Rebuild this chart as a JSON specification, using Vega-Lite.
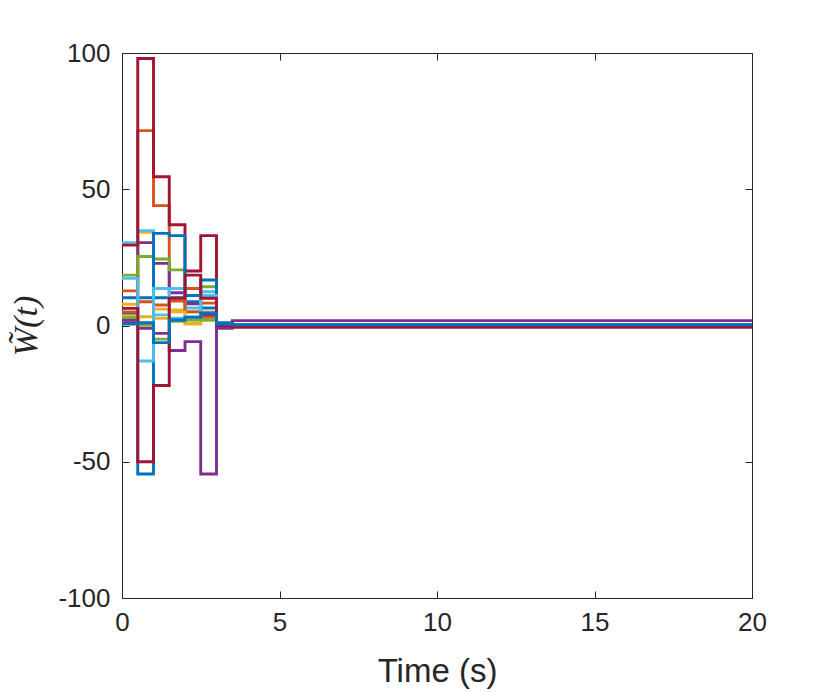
{
  "$schema": "https://vega.github.io/schema/vega-lite/v6.json",
  "autosize": {"type": "none"},
  "width": 630,
  "height": 545,
  "padding": {"left": 122, "top": 53, "right": 78, "bottom": 94},
  "background": "white",
  "config": {
    "view": {"stroke": null},
    "axis": {
      "grid": false,
      "domainColor": "#262626",
      "domainWidth": 1,
      "tickColor": "#262626",
      "tickWidth": 1,
      "tickSize": -7,
      "labelFlush": false,
      "labelColor": "#262626",
      "labelFont": "Liberation Sans",
      "labelFontSize": 26,
      "titleFont": "Liberation Sans",
      "titleColor": "#262626",
      "titleFontSize": 33,
      "titleFontWeight": "normal"
    }
  },
  "datasets": {
    "w": [
      {"s":"s01","t":0,"v":10.2},{"s":"s01","t":0.5,"v":10.2},{"s":"s01","t":1,"v":10.2},{"s":"s01","t":1.5,"v":10.2},{"s":"s01","t":2,"v":8.7},{"s":"s01","t":2.5,"v":6.4},{"s":"s01","t":3,"v":1.0},{"s":"s01","t":3.5,"v":0.2},{"s":"s01","t":20,"v":0.2},
      {"s":"s02","t":0,"v":12.7},{"s":"s02","t":0.5,"v":71.5},{"s":"s02","t":1,"v":44},{"s":"s02","t":1.5,"v":13.6},{"s":"s02","t":2,"v":13.6},{"s":"s02","t":2.5,"v":8.2},{"s":"s02","t":3,"v":0.2},{"s":"s02","t":3.5,"v":0.2},{"s":"s02","t":20,"v":0.2},
      {"s":"s03","t":0,"v":7.8},{"s":"s03","t":0.5,"v":34.2},{"s":"s03","t":1,"v":6.0},{"s":"s03","t":1.5,"v":5.7},{"s":"s03","t":2,"v":0.8},{"s":"s03","t":2.5,"v":5.0},{"s":"s03","t":3,"v":0.2},{"s":"s03","t":3.5,"v":0.2},{"s":"s03","t":20,"v":0.2},
      {"s":"s04","t":0,"v":1.0},{"s":"s04","t":0.5,"v":30.4},{"s":"s04","t":1,"v":22.8},{"s":"s04","t":1.5,"v":12},{"s":"s04","t":2,"v":8},{"s":"s04","t":2.5,"v":4},{"s":"s04","t":3,"v":0.3},{"s":"s04","t":3.5,"v":0.2},{"s":"s04","t":20,"v":0.2},
      {"s":"s05","t":0,"v":18.5},{"s":"s05","t":0.5,"v":25.3},{"s":"s05","t":1,"v":24.4},{"s":"s05","t":1.5,"v":20.4},{"s":"s05","t":2,"v":5},{"s":"s05","t":2.5,"v":14.2},{"s":"s05","t":3,"v":0.2},{"s":"s05","t":3.5,"v":0.2},{"s":"s05","t":20,"v":0.2},
      {"s":"s06","t":0,"v":30.4},{"s":"s06","t":0.5,"v":34.8},{"s":"s06","t":1,"v":3.9},{"s":"s06","t":1.5,"v":13.6},{"s":"s06","t":2,"v":6.4},{"s":"s06","t":2.5,"v":12.4},{"s":"s06","t":3,"v":0.3},{"s":"s06","t":3.5,"v":0.2},{"s":"s06","t":20,"v":0.2},
      {"s":"s07","t":0,"v":29.5},{"s":"s07","t":0.5,"v":98},{"s":"s07","t":1,"v":54.6},{"s":"s07","t":1.5,"v":37},{"s":"s07","t":2,"v":20},{"s":"s07","t":2.5,"v":33},{"s":"s07","t":3,"v":0},{"s":"s07","t":3.5,"v":-0.6},{"s":"s07","t":20,"v":-0.6},
      {"s":"s08","t":0,"v":4.5},{"s":"s08","t":0.5,"v":-54.5},{"s":"s08","t":1,"v":33.8},{"s":"s08","t":1.5,"v":33},{"s":"s08","t":2,"v":11},{"s":"s08","t":2.5,"v":16.7},{"s":"s08","t":3,"v":0.5},{"s":"s08","t":3.5,"v":0.3},{"s":"s08","t":20,"v":0.3},
      {"s":"s09","t":0,"v":5.0},{"s":"s09","t":0.5,"v":8.7},{"s":"s09","t":1,"v":7.5},{"s":"s09","t":1.5,"v":9},{"s":"s09","t":2,"v":5},{"s":"s09","t":2.5,"v":3},{"s":"s09","t":3,"v":0.2},{"s":"s09","t":3.5,"v":0.2},{"s":"s09","t":20,"v":0.2},
      {"s":"s10","t":0,"v":3.5},{"s":"s10","t":0.5,"v":3.2},{"s":"s10","t":1,"v":2.6},{"s":"s10","t":1.5,"v":5},{"s":"s10","t":2,"v":0.5},{"s":"s10","t":2.5,"v":2},{"s":"s10","t":3,"v":0.2},{"s":"s10","t":3.5,"v":0.2},{"s":"s10","t":20,"v":0.2},
      {"s":"s11","t":0,"v":2.0},{"s":"s11","t":0.5,"v":-1},{"s":"s11","t":1,"v":-2.9},{"s":"s11","t":1.5,"v":-9.2},{"s":"s11","t":2,"v":-5.9},{"s":"s11","t":2.5,"v":-54.5},{"s":"s11","t":3,"v":-1},{"s":"s11","t":3.5,"v":1.8},{"s":"s11","t":20,"v":1.8},
      {"s":"s12","t":0,"v":2.9},{"s":"s12","t":0.5,"v":0.2},{"s":"s12","t":1,"v":-5},{"s":"s12","t":1.5,"v":1.5},{"s":"s12","t":2,"v":2},{"s":"s12","t":2.5,"v":2},{"s":"s12","t":3,"v":0.2},{"s":"s12","t":3.5,"v":0.2},{"s":"s12","t":20,"v":0.2},
      {"s":"s13","t":0,"v":17.3},{"s":"s13","t":0.5,"v":-13},{"s":"s13","t":1,"v":13.6},{"s":"s13","t":1.5,"v":2.7},{"s":"s13","t":2,"v":3.2},{"s":"s13","t":2.5,"v":11},{"s":"s13","t":3,"v":0.2},{"s":"s13","t":3.5,"v":0.2},{"s":"s13","t":20,"v":0.2},
      {"s":"s14","t":0,"v":6.3},{"s":"s14","t":0.5,"v":-50},{"s":"s14","t":1,"v":-22},{"s":"s14","t":1.5,"v":10},{"s":"s14","t":2,"v":18.5},{"s":"s14","t":2.5,"v":10},{"s":"s14","t":3,"v":0},{"s":"s14","t":3.5,"v":-0.6},{"s":"s14","t":20,"v":-0.6},
      {"s":"s15","t":0,"v":0.5},{"s":"s15","t":0.5,"v":1},{"s":"s15","t":1,"v":-6.3},{"s":"s15","t":1.5,"v":2},{"s":"s15","t":2,"v":3},{"s":"s15","t":2.5,"v":4.6},{"s":"s15","t":3,"v":0.5},{"s":"s15","t":3.5,"v":0.3},{"s":"s15","t":20,"v":0.3}
    ]
  },
  "data": {"name": "w"},
  "layer": [
    {
      "mark": {"type": "line", "interpolate": "step-after", "strokeWidth": 2.9, "clip": true},
      "encoding": {
        "x": {"field": "t", "type": "quantitative", "scale": {"domain": [0, 20], "nice": false},
              "axis": {"values": [0, 5, 10, 15, 20], "title": "Time (s)", "labelPadding": 18, "titlePadding": 20}},
        "y": {"field": "v", "type": "quantitative", "scale": {"domain": [-100, 100], "nice": false},
              "axis": {"values": [-100, -50, 0, 50, 100], "labelExpr": "'' + datum.value", "title": "W̃(t)", "titleFont": "Liberation Serif", "titleFontStyle": "italic", "titleFontSize": 34, "labelPadding": 19, "titlePadding": 14}},
        "color": {"field": "s", "type": "nominal", "legend": null,
                  "scale": {"domain": ["s01","s02","s03","s04","s05","s06","s07","s08","s09","s10","s11","s12","s13","s14","s15"],
                            "range": ["#0072BD","#D95319","#EDB120","#7E2F8E","#77AC30","#4DBEEE","#A2142F","#0072BD","#D95319","#EDB120","#7E2F8E","#77AC30","#4DBEEE","#A2142F","#0072BD"]}}
      }
    },
    {
      "mark": {"type": "line", "strokeOpacity": 0},
      "encoding": {
        "x": {"field": "t", "type": "quantitative", "axis": {"orient": "top", "values": [0, 5, 10, 15, 20], "labels": false, "title": null}},
        "y": {"field": "v", "type": "quantitative", "axis": {"orient": "right", "values": [-100, -50, 0, 50, 100], "labels": false, "title": null}}
      }
    }
  ],
  "resolve": {"axis": {"x": "independent", "y": "independent"}}
}
